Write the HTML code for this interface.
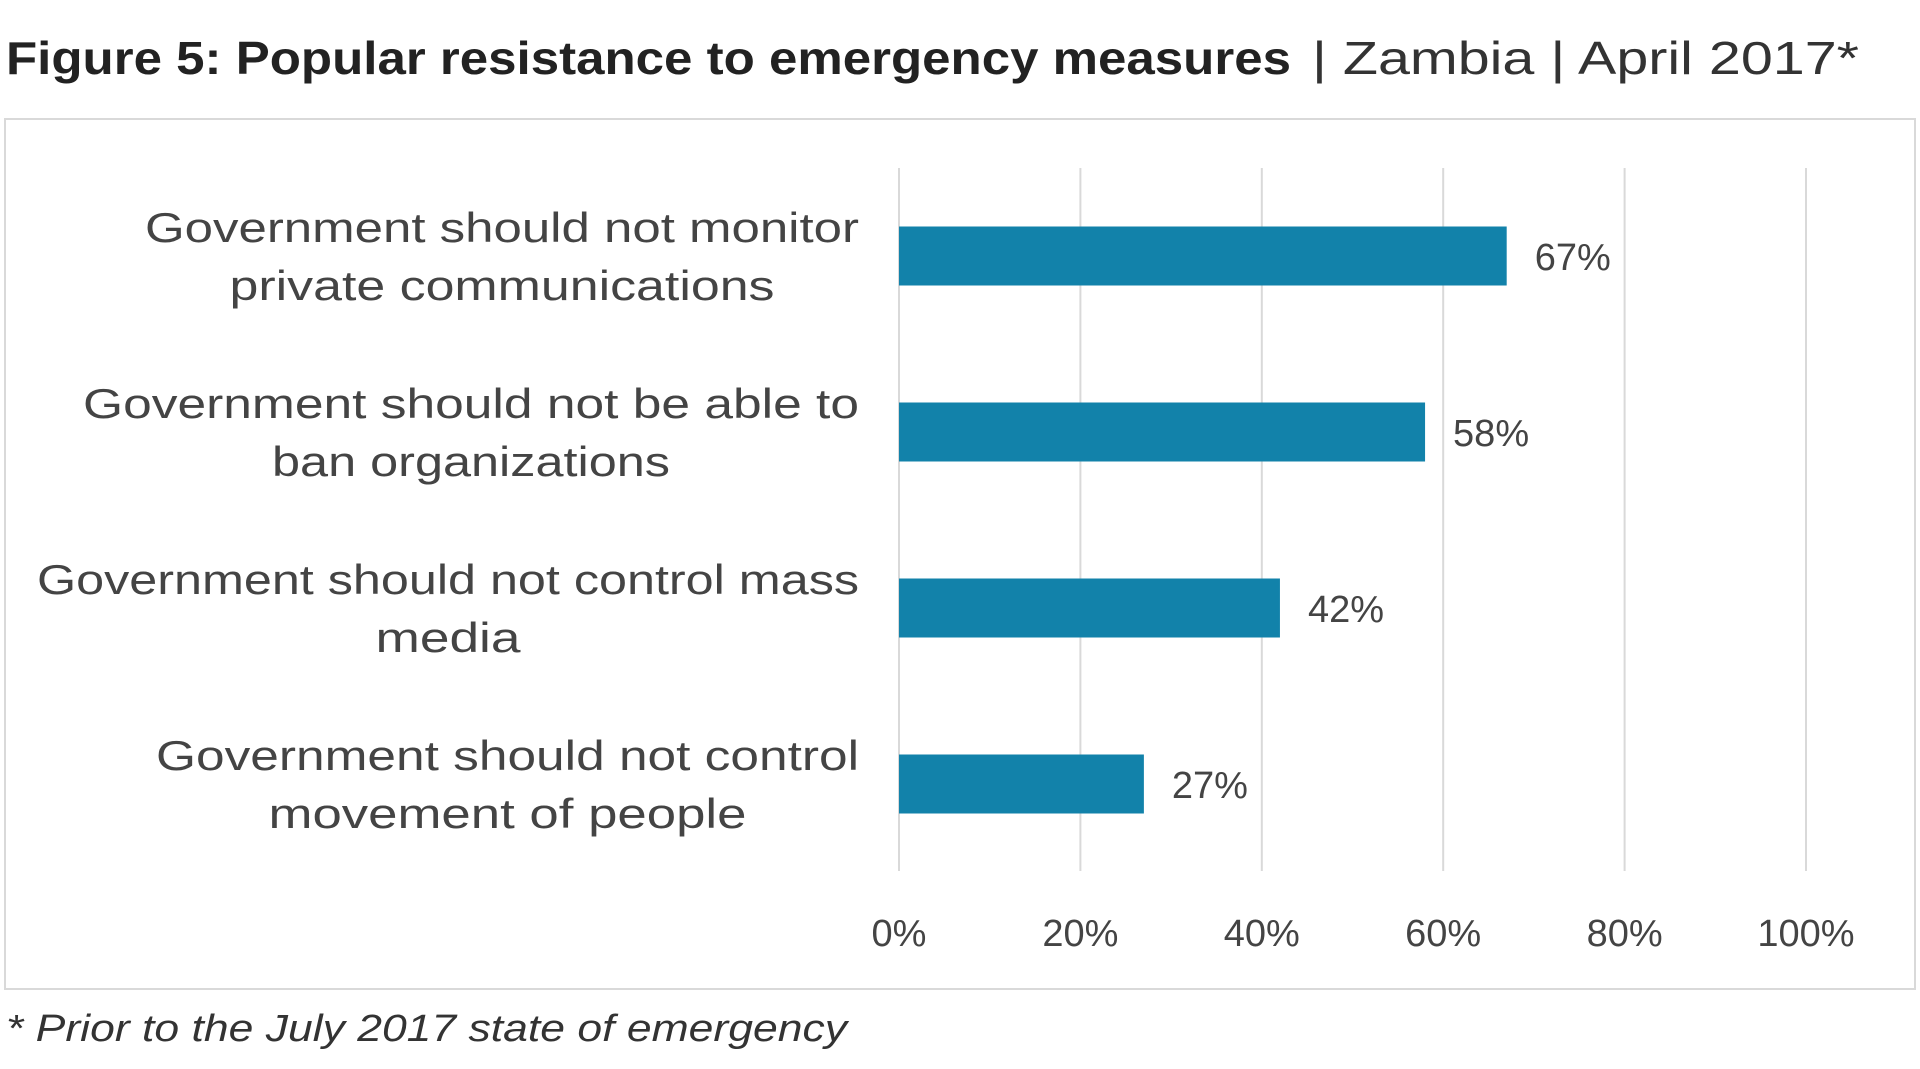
<!DOCTYPE html>
<html><head><meta charset="utf-8"><style>
html,body{margin:0;padding:0;background:#fff;}
svg{display:block;font-family:"Liberation Sans",sans-serif;}
</style></head><body>
<svg id="chart" width="1920" height="1069" viewBox="0 0 1920 1069">
  <text x="6" y="74" font-size="46" font-weight="bold" fill="#222" textLength="1285" lengthAdjust="spacingAndGlyphs">Figure 5: Popular resistance to emergency measures</text>
  <text x="1312" y="74" font-size="46" fill="#333" textLength="547" lengthAdjust="spacingAndGlyphs">| Zambia | April 2017*</text>
  <rect x="5" y="119" width="1910" height="870" fill="#fff" stroke="#d9d9d9" stroke-width="2"/>
  <g id="grid"></g>
  <g id="bars"></g>
  <text x="6" y="1041" font-size="38" font-style="italic" fill="#333" textLength="841" lengthAdjust="spacingAndGlyphs">* Prior to the July 2017 state of emergency</text>
</svg>
<script>
const categories = [
  ["Government should not monitor","private communications"],
  ["Government should not be able to","ban organizations"],
  ["Government should not control mass","media"],
  ["Government should not control","movement of people"]
];
const values = [67, 58, 42, 27];
const valueLabels = ["67%","58%","42%","27%"];
const ticks = [0, 20, 40, 60, 80, 100];
const tickLabels = ["0%","20%","40%","60%","80%","100%"];

const NS = "http://www.w3.org/2000/svg";
const x0 = 899, xw = 907, yTop = 168, step = 176, barH = 59, firstC = 256;
function xs(v){ return x0 + v/100*xw; }
function yc(i){ return firstC + i*step; }
function mk(tag, attrs, parent){
  const e = document.createElementNS(NS, tag);
  for (const k in attrs) e.setAttribute(k, attrs[k]);
  parent.appendChild(e); return e;
}
const grid = document.getElementById('grid');
const bars = document.getElementById('bars');
ticks.forEach((t,i)=>{
  const l = mk('line',{x1:xs(t),x2:xs(t),y1:yTop,y2:871,stroke:'#d9d9d9','stroke-width':2},grid);
  
  
  const tx = mk('text',{x:xs(t),y:946,'font-size':38,'text-anchor':'middle',fill:'#444'},grid);
  tx.textContent = tickLabels[i];
  
  
});
const lineW = [[714,545],[776,398],[822,145],[703,478]];
categories.forEach((lines,i)=>{
  const c = yc(i);
  const r = mk('rect',{x:xs(0),y:c-barH/2,width:xs(values[i])-xs(0),height:barH,fill:'#1282aa'},bars);
  
  
  const v = mk('text',{x:xs(values[i])+28,y:c+14,'font-size':38,fill:'#444'},bars);
  v.textContent = valueLabels[i];
  
  
  lines.forEach((s,j)=>{
    const cx = 859 - (lineW[i][0])/2;
    const t = mk('text',{x: j===0 ? 859 : cx,y:c-12+j*56+(j===0?-2:0),'font-size':42,fill:'#444','text-anchor': j===0?'end':'middle',textLength:lineW[i][j],lengthAdjust:'spacingAndGlyphs'},bars);
    t.textContent = s;
    
    
  });
});
</script>
</body></html>
